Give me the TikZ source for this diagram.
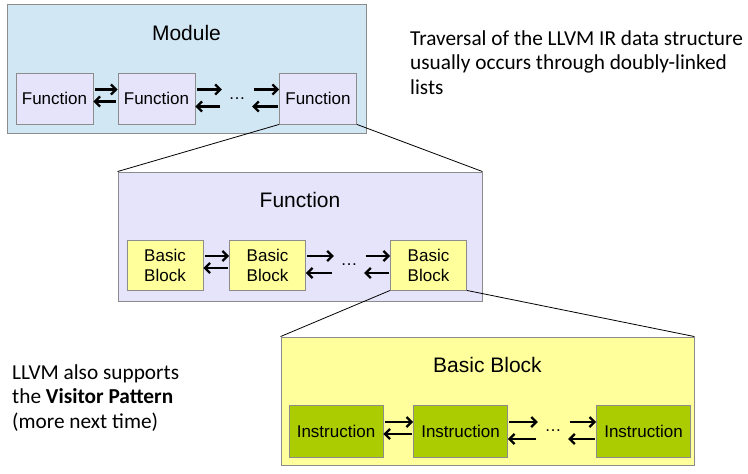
\documentclass[tikz,border=0pt]{standalone}
\usepackage{fontspec}
\setmainfont{Liberation Sans}
\newfontfamily\notefont{Carlito}
\usetikzlibrary{arrows.meta}

\definecolor{boxgray}{HTML}{8C8C8C}
\definecolor{modblue}{HTML}{D2E7F4}
\definecolor{fnlilac}{HTML}{E6E4FA}
\definecolor{bbyellow}{HTML}{FFFF9C}
\definecolor{insgreen}{HTML}{AACC00}

\tikzset{
  container/.style={draw=boxgray, line width=0.9pt, inner sep=0pt},
  title/.style={font=\fontsize{21}{25}\selectfont},
  item/.style={draw=boxgray, line width=0.9pt, inner sep=0pt, align=center,
    font=\fontsize{17}{20}\selectfont},
  gap/.style={inner sep=0pt, minimum width=30, minimum height=20, font=\fontsize{17}{20}\selectfont},
  link/.style={->, line width=2.2pt},
  zoomline/.style={line width=0.8pt},
  note/.style={align=left, anchor=west, inner sep=0pt,
    font=\notefont\fontsize{21.3}{24.5}\selectfont},
}

\begin{document}
\begin{tikzpicture}[x=1pt, y=-1pt, >={Straight Barb[length=5pt, width=10pt]}]
    \useasboundingbox (0,0) rectangle (748,474);

    % module level
    \node [container, fill=modblue, minimum width=359, minimum height=129] (module) at (186.5,68.5) {};
    \node [title] (module-title) at ([yshift=-29]module.north) {Module};
    \foreach \x [count=\i] in {54.5,156.5,318}
      \node [item, fill=fnlilac, minimum width=77, minimum height=51] (fn-\i) at (\x,98.5) {Function};
    \node [gap] (fn-dots) at (237,98.5) {\dots};

    % function level
    \node [container, fill=fnlilac, minimum width=364, minimum height=129] (function) at (300,236.5) {};
    \node [title] (function-title) at ([yshift=-28]function.north) {Function};
    \foreach \x [count=\i] in {165,267.5,428.5}
      \node [item, fill=bbyellow, minimum width=76, minimum height=50] (bb-\i) at (\x,265) {Basic\\Block};
    \node [gap] (bb-dots) at (349,265) {\dots};

    % basic block level
    \node [container, fill=bbyellow, minimum width=413, minimum height=128] (block) at (487.5,401) {};
    \node [title] (block-title) at ([yshift=-28]block.north) {Basic Block};
    \foreach \x [count=\i] in {336,460.5,643.5}
      \node [item, fill=insgreen, minimum width=94, minimum height=52] (ins-\i) at (\x,431) {Instruction};
    \node [gap] (ins-dots) at (553,431) {\dots};

    % doubly-linked arrows
    \foreach \l in {fn,bb,ins}
      \foreach \a/\b/\d in {1/2/-3, 2/dots/-8, dots/3/-8} {
        \draw [link, shorten <=1.5] ([yshift=9]\l-\a.east) -- ([yshift=9]\l-\b.west);
        \draw [link, shorten <=1.5] ([yshift=\d]\l-\b.west) -- ([yshift=\d]\l-\a.east);
      }

    % zoom lines
    \draw [zoomline] (fn-3.south west) -- (function.north west);
    \draw [zoomline] (fn-3.south east) -- (function.north east);
    \draw [zoomline] (bb-3.south west) -- (block.north west);
    \draw [zoomline] (bb-3.south east) -- (block.north east);

    % notes
    \node [note] (note-lists) at (410,62.5)
      {Traversal of the LLVM IR data structure\\usually occurs through doubly-linked\\lists};
    \node [note] (note-visitor) at (12,398)
      {LLVM also supports\\the \textbf{Visitor Pattern}\\(more next time)};

\end{tikzpicture}
\end{document}
